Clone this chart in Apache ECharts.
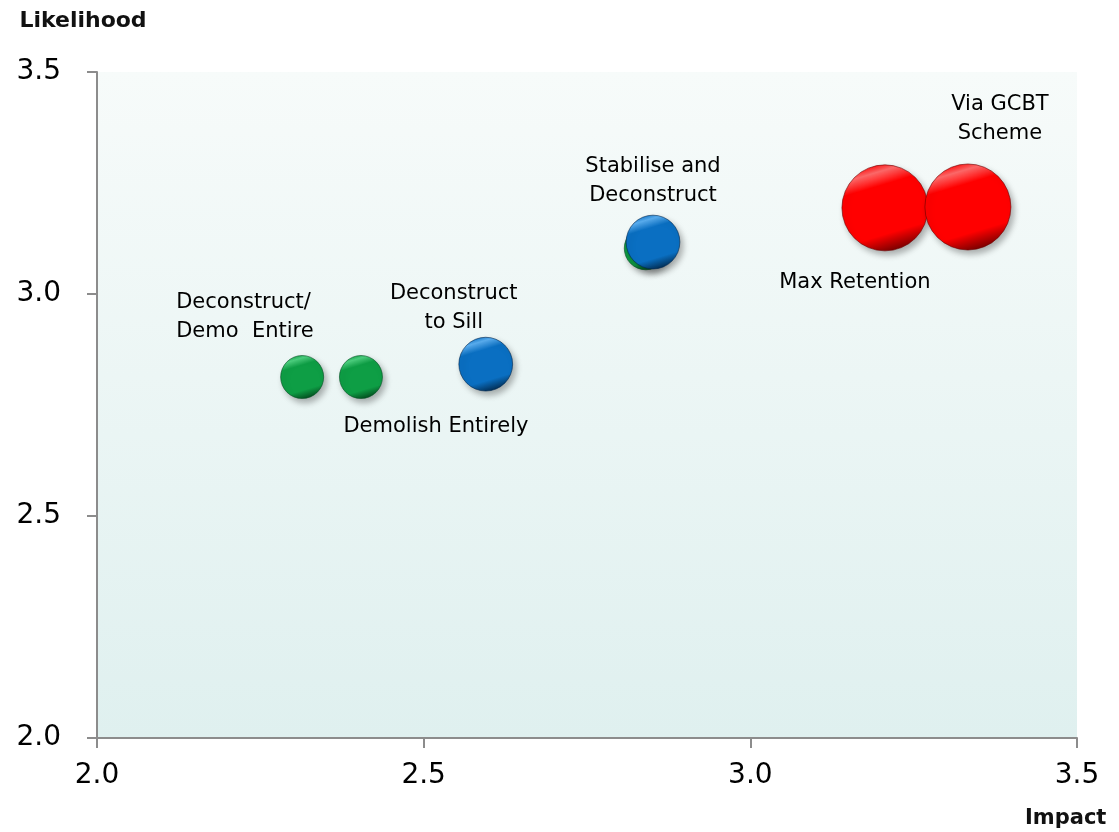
<!DOCTYPE html>
<html>
<head>
<meta charset="utf-8">
<script src="https://cdn.jsdelivr.net/npm/echarts@6/dist/echarts.min.js"></script>
<style>html,body{margin:0;padding:0;background:#fff;}#c{width:1119px;height:832px;}</style>
</head>
<body>
<div id="c"></div>
<script>
// Data (Impact, Likelihood, relative bubble weight)
const greenNames = ['Deconstruct/\nDemo  Entire', 'Demolish Entirely', ''];
const greenImpact = [2.314, 2.404, 2.840];
const greenLikelihood = [2.813, 2.813, 3.103];
const greenWeight = [1, 1, 1];

const blueNames = ['Deconstruct\nto Sill', 'Stabilise and\nDeconstruct'];
const blueImpact = [2.595, 2.851];
const blueLikelihood = [2.842, 3.117];
const blueWeight = [1.25, 1.25];

const redNames = ['Max Retention', 'Via GCBT\nScheme'];
const redImpact = [3.206, 3.333];
const redLikelihood = [3.194, 3.196];
const redWeight = [2, 2];

const axisTicks = [2.0, 2.5, 3.0, 3.5];

// label placement (style only)
const labelStyles = {
  'Deconstruct/\nDemo  Entire': {position: 'top', offset: [-126, -4], align: 'left'},
  'Demolish Entirely': {position: 'bottom', offset: [75, 8]},
  'Deconstruct\nto Sill': {position: 'top', offset: [-32, 5]},
  'Stabilise and\nDeconstruct': {position: 'top', offset: [0, 0]},
  'Max Retention': {position: 'bottom', offset: [-30, 12]},
  'Via GCBT\nScheme': {position: 'top', offset: [32, -10]}
};

function sphere(light, base, dark) {
  return new echarts.graphic.LinearGradient(0.35, 0, 0.65, 1, [
    {offset: 0, color: base},
    {offset: 0.1, color: light},
    {offset: 0.25, color: base},
    {offset: 0.78, color: base},
    {offset: 1, color: dark}
  ]);
}

function build(names, xs, ys, ws) {
  return names.map((n, i) => {
    const item = {name: n, value: [xs[i], ys[i], ws[i]]};
    if (n && labelStyles[n]) {
      const s = labelStyles[n];
      item.label = {
        show: true, position: s.position, offset: s.offset, align: s.align || 'center',
        formatter: '{b}', color: '#000', fontFamily: 'DejaVu Sans', fontSize: 21, lineHeight: 29
      };
    }
    return item;
  });
}

const BASE = 43;

function series(name, data, color, rim) {
  return {
    name: name,
    type: 'scatter',
    data: data,
    symbolSize: v => BASE * v[2],
    itemStyle: {
      color: color,
      opacity: 1,
      borderColor: rim,
      borderWidth: 1,
      shadowBlur: 6,
      shadowOffsetX: 3,
      shadowOffsetY: 4,
      shadowColor: 'rgba(0,0,0,0.3)'
    },
    label: {show: false},
    emphasis: {disabled: true}
  };
}

const chart = echarts.init(document.getElementById('c'), null, {renderer: 'canvas'});
chart.setOption({
  animation: false,
  backgroundColor: '#ffffff',
  grid: {
    left: 97, right: 42, top: 72, bottom: 94,
    show: true,
    borderWidth: 0,
    backgroundColor: new echarts.graphic.LinearGradient(0, 0, 0, 1, [
      {offset: 0, color: '#f7fbfa'},
      {offset: 1, color: '#dff0ef'}
    ])
  },
  xAxis: {
    type: 'value',
    min: axisTicks[0], max: axisTicks[axisTicks.length - 1], interval: 0.5,
    name: 'Impact',
    nameLocation: 'end',
    nameGap: -52,
    nameTextStyle: {
      fontFamily: 'DejaVu Sans', fontWeight: 'bold', fontSize: 21, color: '#111',
      align: 'left', verticalAlign: 'top', padding: [70, 0, 0, 0]
    },
    axisLine: {lineStyle: {color: '#8c8c8c', width: 2}},
    axisTick: {show: true, length: 10, lineStyle: {color: '#8c8c8c', width: 2}},
    splitLine: {show: false},
    axisLabel: {
      formatter: v => v.toFixed(1), fontFamily: 'DejaVu Sans', fontSize: 28, color: '#000', margin: 24
    }
  },
  yAxis: {
    type: 'value',
    min: axisTicks[0], max: axisTicks[axisTicks.length - 1], interval: 0.5,
    name: 'Likelihood',
    nameLocation: 'end',
    nameGap: 40,
    nameTextStyle: {
      fontFamily: 'DejaVu Sans', fontWeight: 'bold', fontSize: 22, color: '#111',
      align: 'center', padding: [0, 28, 0, 0]
    },
    axisLine: {show: true, lineStyle: {color: '#8c8c8c', width: 2}},
    axisTick: {show: true, length: 10, lineStyle: {color: '#8c8c8c', width: 2}},
    splitLine: {show: false},
    axisLabel: {
      formatter: v => v.toFixed(1), fontFamily: 'DejaVu Sans', fontSize: 28, color: '#000', margin: 36
    }
  },
  series: [
    series('green', build(greenNames, greenImpact, greenLikelihood, greenWeight), sphere('#4ccf7e', '#0e9e45', '#03441b'), 'rgba(4,80,35,0.6)'),
    series('blue', build(blueNames, blueImpact, blueLikelihood, blueWeight), sphere('#5aaef0', '#0a6fc2', '#022647'), 'rgba(2,40,80,0.6)'),
    series('red', build(redNames, redImpact, redLikelihood, redWeight), sphere('#ff6a6a', '#ff0000', '#6a0000'), 'rgba(110,0,0,0.6)')
  ]
});
</script>
</body>
</html>
